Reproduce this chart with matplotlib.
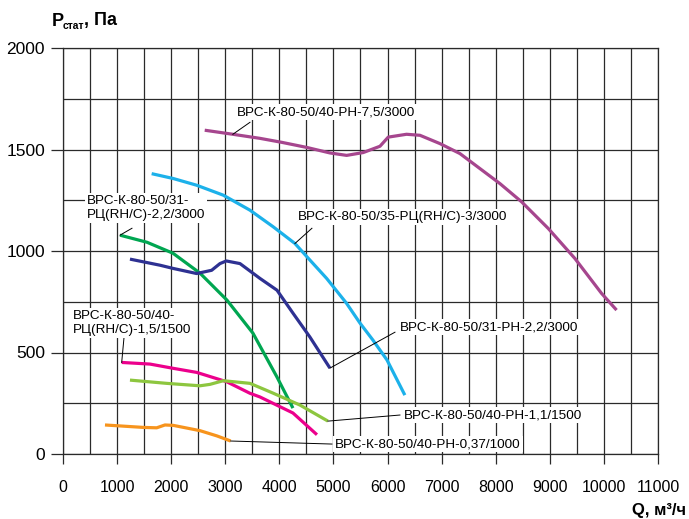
import matplotlib
matplotlib.use("Agg")
import matplotlib.pyplot as plt
from matplotlib.ticker import MultipleLocator

plt.rcParams['font.family'] = ['Liberation Sans', 'DejaVu Sans']

# Данные кривых (Q, м3/ч ; P, Па)
q_75 = [2620, 3140, 3640, 4050, 4510, 4935, 5244, 5551, 5860, 6013, 6351, 6599, 6969, 7338, 7708, 8078, 8479, 8971, 9464, 9957, 10234]
p_75 = [1595, 1575, 1555, 1535, 1510, 1483, 1471, 1485, 1516, 1561, 1575, 1570, 1529, 1480, 1406, 1332, 1242, 1111, 963, 791, 709]

q_3 = [1639, 2039, 2471, 2963, 3457, 3887, 4288, 4566, 4874, 5240, 5490, 5730, 5990, 6320]
p_3 = [1381, 1357, 1324, 1275, 1201, 1119, 1037, 955, 865, 743, 645, 561, 463, 290]

q_22rc = [1054, 1553, 2033, 2532, 3031, 3512, 3956, 4251]
p_22rc = [1078, 1043, 989, 891, 758, 595, 379, 226]

q_22 = [1238, 1793, 2039, 2471, 2748, 2902, 3019, 3272, 3641, 3956, 4251, 4565, 4935]
p_22 = [960, 930, 914, 889, 905, 938, 951, 938, 865, 807, 694, 576, 423]

q_15 = [1085, 1608, 2039, 2471, 3026, 3457, 3641, 4251, 4695]
p_15 = [451, 443, 422, 402, 356, 299, 281, 202, 95]

q_11 = [1238, 1917, 2532, 2717, 2963, 3457, 3882, 4381, 4898]
p_11 = [364, 348, 336, 343, 361, 348, 300, 241, 162]

q_037 = [776, 1484, 1732, 1885, 2039, 2532, 2847, 3100]
p_037 = [143, 131, 129, 143, 141, 115, 89, 64]

# (Q, P, цвет, подпись, точка выноски, конец выноски, позиция текста)
curves = [
    (q_75, p_75, '#a6468e', 'ВРС-К-80-50/40-РН-7,5/3000', 1, (3457, 1634), (3216, 1683)),
    (q_3, p_3, '#1cb1ea', 'ВРС-К-80-50/35-РЦ(RH/C)-3/3000', 6, (4602, 1112), (4344, 1166)),
    (q_22rc, p_22rc, '#00a651', 'ВРС-К-80-50/31-\nРЦ(RH/C)-2,2/3000', 0, (1275, 1112), (444, 1213)),
    (q_22, p_22, '#2e3192', 'ВРС-К-80-50/31-РН-2,2/3000', -1, (6137, 600), (6229, 625)),
    (q_15, p_15, '#ec008c', 'ВРС-К-80-50/40-\nРЦ(RH/C)-1,5/1500', 0, (1130, 580), (185, 647)),
    (q_11, p_11, '#8dc63f', 'ВРС-К-80-50/40-РН-1,1/1500', -1, (6229, 192), (6303, 192)),
    (q_037, p_037, '#f7941d', 'ВРС-К-80-50/40-РН-0,37/1000', -1, (4972, 49), (5028, 49)),
]

fig = plt.figure(figsize=(6.89, 5.19), dpi=100)
ax = fig.add_axes([63 / 689, 65 / 519, 595 / 689, 406 / 519])

ax.set_xlim(0, 11000)
ax.set_ylim(0, 2000)
ax.xaxis.set_major_locator(MultipleLocator(1000))
ax.xaxis.set_minor_locator(MultipleLocator(500))
ax.yaxis.set_major_locator(MultipleLocator(500))
ax.yaxis.set_minor_locator(MultipleLocator(250))
ax.grid(True, which='both', color='#2a2a2a', linewidth=0.9, zorder=0)
ax.set_axisbelow(True)
for s in ax.spines.values():
    s.set_color('#2a2a2a')
    s.set_linewidth(0.9)
ax.tick_params(axis='x', which='major', length=7, width=0.9, color='#2a2a2a', labelsize=11.5, pad=12)
ax.tick_params(axis='y', which='major', length=9, width=0.9, color='#2a2a2a', labelsize=12.5, pad=4)
ax.tick_params(which='minor', length=0)

for q, p, c, lab, i, lead, txt in curves:
    ax.plot(q, p, color=c, linewidth=2.3, solid_capstyle='butt', solid_joinstyle='round', zorder=3)
    ax.plot([q[i], lead[0]], [p[i], lead[1]], color='black', linewidth=0.7, zorder=4)
    ax.text(txt[0], txt[1], lab, fontsize=9.7, ha='left', va='center', linespacing=1.2,
            bbox=dict(facecolor='white', edgecolor='none', pad=1.5), zorder=5)

# подписи осей
fig.text(52 / 689, 1 - 21 / 519, 'P', fontsize=13, fontweight='bold', va='center', ha='left')
fig.text(63 / 689, 1 - 26 / 519, 'стат', fontsize=7.5, fontweight='bold', va='center', ha='left')
fig.text(84 / 689, 1 - 21 / 519, ', Па', fontsize=13, fontweight='bold', va='center', ha='left')
fig.text(686 / 689, 1 - 511 / 519, 'Q, м³/ч', fontsize=12, fontweight='bold', va='center', ha='right')

fig.savefig('out.png', dpi=100)
